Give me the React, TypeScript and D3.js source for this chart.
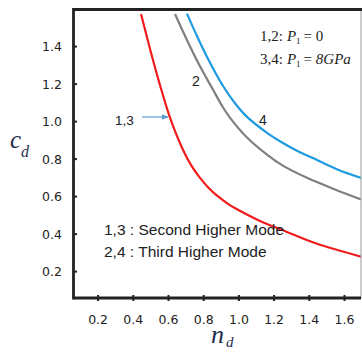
import React from "react";
import * as d3 from "d3";

const xTicks = [0.2, 0.4, 0.6, 0.8, 1.0, 1.2, 1.4, 1.6];
const yTicks = [0.2, 0.4, 0.6, 0.8, 1.0, 1.2, 1.4];

// curve 1,3 (red): Second Higher Mode
const redN = [0.444, 0.5, 0.55, 0.609, 0.682, 0.73, 0.779, 0.83, 0.876, 0.94, 1.0, 1.12, 1.27, 1.44, 1.694];
const redC = [1.574, 1.37, 1.2, 1.02, 0.85, 0.765, 0.7, 0.645, 0.605, 0.56, 0.527, 0.47, 0.413, 0.35, 0.28];
// curve 2 (gray)
const grayN = [0.637, 0.7, 0.779, 0.85, 0.91, 0.95, 1.046, 1.165, 1.25, 1.387, 1.55, 1.694];
const grayC = [1.574, 1.445, 1.295, 1.175, 1.075, 1.02, 0.915, 0.82, 0.765, 0.7, 0.637, 0.585];
// curve 4 (blue)
const blueN = [0.705, 0.76, 0.819, 0.91, 0.98, 1.046, 1.16, 1.25, 1.33, 1.444, 1.56, 1.694];
const blueC = [1.576, 1.46, 1.345, 1.19, 1.095, 1.025, 0.94, 0.886, 0.845, 0.795, 0.745, 0.7];

const L = 73.5, R = 361, T = 9.5, B = 298;

export default function App() {
  const x = d3.scaleLinear().domain([0, 1]).range([62.9, 62.9 + 176]);
  const y = d3.scaleLinear().domain([0, 1]).range([309.1, 309.1 - 187.5]);
  const line = d3
    .line<[number, number]>()
    .x((d) => x(d[0]))
    .y((d) => y(d[1]))
    .curve(d3.curveCatmullRom.alpha(0.5));
  const zip = (a: number[], b: number[]) => a.map((v, i) => [v, b[i]] as [number, number]);
  const tickFont = "'DejaVu Sans', sans-serif";
  const sans = "'Liberation Sans', Arial, sans-serif";
  const serif = "'Liberation Serif', 'Times New Roman', serif";
  return (
    <svg
      width={362}
      height={352}
      style={{ position: "absolute", left: 0, top: 0, background: "#fff" }}
    >
      <defs>
        <clipPath id="plot">
          <rect x={L} y={T} width={R - L} height={B - T} />
        </clipPath>
        <marker id="arr" viewBox="0 0 10 10" refX="9" refY="5" markerWidth="6" markerHeight="6" orient="auto">
          <path d="M0,1 L10,5 L0,9 z" fill="#5b9bd5" />
        </marker>
      </defs>
      <rect x={0} y={0} width={362} height={352} fill="#fff" />
      <g clipPath="url(#plot)" fill="none" strokeWidth={2.2}>
        <path d={line(zip(redN, redC)) || ""} stroke="#f01c1c" />
        <path d={line(zip(grayN, grayC)) || ""} stroke="#7f7f7f" />
        <path d={line(zip(blueN, blueC)) || ""} stroke="#1e9be0" />
      </g>
      {/* frame */}
      <line x1={R} x2={R} y1={T} y2={B} stroke="#999" strokeWidth={1} />
      <line x1={L} x2={362} y1={T} y2={T} stroke="#222" strokeWidth={3} />
      <line x1={L} x2={L} y1={T - 1.5} y2={B + 1.5} stroke="#222" strokeWidth={2.8} />
      <line x1={L} x2={R} y1={B} y2={B} stroke="#222" strokeWidth={2.8} />
      {/* ticks */}
      {xTicks.map((t) => (
        <g key={"x" + t}>
          <line x1={x(t)} x2={x(t)} y1={B - 3} y2={B + 3} stroke="#222" strokeWidth={2} />
          <text x={x(t)} y={324} textAnchor="middle" fontFamily={tickFont} fontSize={12.5} fill="#222">
            {t.toFixed(1)}
          </text>
        </g>
      ))}
      {yTicks.map((t) => (
        <g key={"y" + t}>
          <line x1={L} x2={L + 3.5} y1={y(t)} y2={y(t)} stroke="#222" strokeWidth={2} />
          <text x={62} y={y(t) + 4.5} textAnchor="end" fontFamily={tickFont} fontSize={12.5} fill="#222">
            {t.toFixed(1)}
          </text>
        </g>
      ))}
      {/* axis titles */}
      <text x={10} y={148} fontFamily={serif} fontStyle="italic" fontSize={25} fill="#1f2d4d">
        c
      </text>
      <text x={21} y={157} fontFamily={serif} fontStyle="italic" fontSize={16} fill="#1f2d4d">
        d
      </text>
      <text x={211} y={343} fontFamily={serif} fontStyle="italic" fontSize={26} fill="#1f2d4d">
        n
      </text>
      <text x={226} y={347} fontFamily={serif} fontStyle="italic" fontSize={15} fill="#1f2d4d">
        d
      </text>
      {/* curve labels */}
      <text x={115} y={125} fontFamily={sans} fontSize={13.5} fill="#222">
        1,3
      </text>
      <line x1={142} x2={168} y1={117} y2={117} stroke="#5b9bd5" strokeWidth={1.2} markerEnd="url(#arr)" />
      <text x={192} y={86} fontFamily={sans} fontSize={14} fill="#222">
        2
      </text>
      <text x={259} y={125} fontFamily={sans} fontSize={14} fill="#222">
        4
      </text>
      {/* pressure legend */}
      <text x={260} y={41} fontFamily={serif} fontSize={15} fill="#222">
        1,2:
        <tspan dx={4} fontStyle="italic">P</tspan>
        <tspan fontSize={9} dy={3}>1</tspan>
        <tspan dy={-3} dx={3}>= 0</tspan>
      </text>
      <text x={260} y={64} fontFamily={serif} fontSize={15} fill="#222">
        3,4:
        <tspan dx={4} fontStyle="italic">P</tspan>
        <tspan fontSize={9} dy={3}>1</tspan>
        <tspan dy={-3} dx={3}>= </tspan>
        <tspan fontStyle="italic">8GPa</tspan>
      </text>
      {/* mode legend */}
      <text x={104} y={235} fontFamily={sans} fontSize={15.5} fill="#222">
        1,3 : Second Higher Mode
      </text>
      <text x={104} y={257} fontFamily={sans} fontSize={15.5} fill="#222">
        2,4 : Third Higher Mode
      </text>
    </svg>
  );
}
